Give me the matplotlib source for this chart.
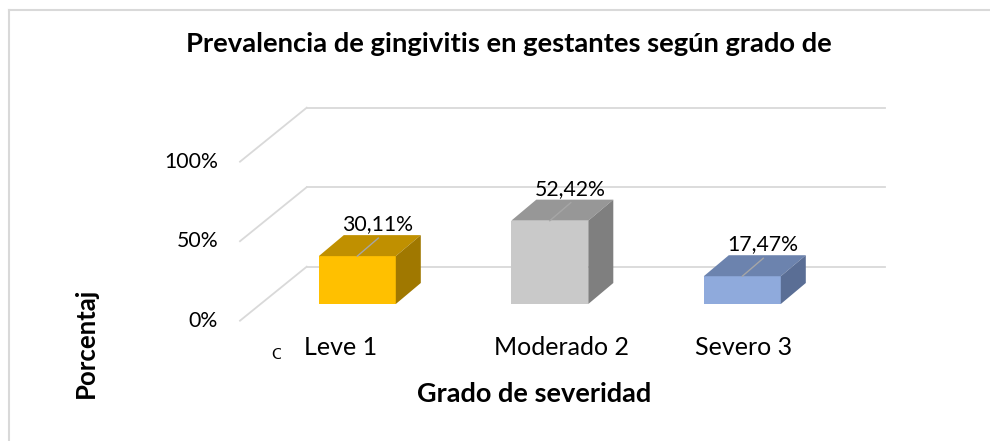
import matplotlib
matplotlib.use("Agg")
import matplotlib.pyplot as plt
from matplotlib.patches import Polygon, Rectangle
from matplotlib.lines import Line2D

plt.rcParams['font.family'] = ['Lato', 'DejaVu Sans']

# ---- data ----
categories = ["Leve 1", "Moderado 2", "Severo 3"]
values = [30.11, 52.42, 17.47]
value_labels = ["30,11%", "52,42%", "17,47%"]
yticks = [0, 50, 100]
ytick_labels = ["0%", "50%", "100%"]
title = "Prevalencia de gingivitis en gestantes según grado de"
xlabel = "Grado de severidad"
ylabel = "Porcentaj"

front_colors = ["#FFC000", "#C9C9C9", "#8FAADC"]
top_colors = ["#C09000", "#979797", "#6C83AE"]
side_colors = ["#A07800", "#7F7F7F", "#5A6E95"]

# ---- layout (pixel calibration) ----
W, H = 990, 441
fig = plt.figure(figsize=(W / 100, H / 100), dpi=100)
ax = fig.add_axes([0, 0, 1, 1])
ax.axis('off')

PX_X = 192.5      # px per category step
X0 = 357.3        # px of first category front centre
PX_Y = 1.59       # px per percent
Y0 = 320.7        # px of 0% on front plane
ax.set_xlim(-X0 / PX_X, (W - X0) / PX_X)
ax.set_ylim(-(H - Y0) / PX_Y, Y0 / PX_Y)

def dx(px):
    return px / PX_X

def dy(px):
    return px / PX_Y

# floor / wall geometry
front_left = dx(240 - X0)
depth_x, depth_y = dx(66.7), dy(54)
back_right = dx(885 - X0)
grid_c = "#D9D9D9"
for g in yticks:
    ax.add_line(Line2D([front_left, front_left + depth_x], [g, g + depth_y],
                       color=grid_c, lw=1.3, zorder=1))
    ax.add_line(Line2D([front_left + depth_x, back_right], [g + depth_y, g + depth_y],
                       color=grid_c, lw=1.3, zorder=1))

for g, lab in zip(yticks, ytick_labels):
    ax.text(dx(218 - X0), g, lab, ha='right', va='center', fontsize=15.3, color='#000000')

# bars
bw = dx(77)
bar_base = dy(16.7)
bdx, bdy = dx(25), dy(21)
for i, (v, fc, tc, sc) in enumerate(zip(values, front_colors, top_colors, side_colors)):
    x0 = i - bw / 2
    x1 = i + bw / 2
    y0 = bar_base
    y1 = bar_base + v
    ax.add_patch(Rectangle((x0, y0), bw, v, facecolor=fc, edgecolor='none', zorder=3))
    ax.add_patch(Polygon([(x0, y1), (x1, y1), (x1 + bdx, y1 + bdy), (x0 + bdx, y1 + bdy)],
                         closed=True, facecolor=tc, edgecolor='none', zorder=3))
    ax.add_patch(Polygon([(x1, y0), (x1 + bdx, y0 + bdy), (x1 + bdx, y1 + bdy), (x1, y1)],
                         closed=True, facecolor=sc, edgecolor='none', zorder=3))
    # leader line
    ax.add_line(Line2D([i, i + dx(21)], [y1, y1 + dy(18)], color='#A6A6A6', lw=1.0, zorder=4))
    ax.text(i + dx(20), y1 + bdy + dy(11), value_labels[i], ha='center', va='center',
            fontsize=15.3, color='#000000', zorder=5)

# category labels
cat_nudge_px = [-17, 12, 1]
for i, (c, n) in enumerate(zip(categories, cat_nudge_px)):
    ax.text(i + dx(n), -dy(355 - Y0), c, ha='center', va='baseline', fontsize=18, color='#000000')

# clipped axis-title remnant
tc = fig.text(271.5 / W, 1 - 359 / H, "C", ha='left', va='baseline', fontsize=11.5, color='#000000')
tc.set_clip_box(matplotlib.transforms.Bbox.from_extents(0, 0, 281, H))
tc.set_clip_on(True)

# titles
fig.text(509 / W, 1 - 51.7 / H, title, ha='center', va='baseline', fontsize=19.7, fontweight='bold')
fig.text(534 / W, 1 - 401.7 / H, xlabel, ha='center', va='baseline', fontsize=19.5, fontweight='bold')
fig.text(86 / W, 1 - 343 / H, ylabel, ha='center', va='center', rotation=90, fontsize=18.5,
         fontweight='bold')

# chart border (left and top edges)
fig.add_artist(Line2D([9 / W, 9 / W], [0, 1 - 10 / H], transform=fig.transFigure,
                      color='#D9D9D9', lw=1.5))
fig.add_artist(Line2D([9 / W, 1], [1 - 10 / H, 1 - 10 / H], transform=fig.transFigure,
                      color='#D9D9D9', lw=1.5))

fig.savefig("out.png", dpi=100, facecolor='white')
